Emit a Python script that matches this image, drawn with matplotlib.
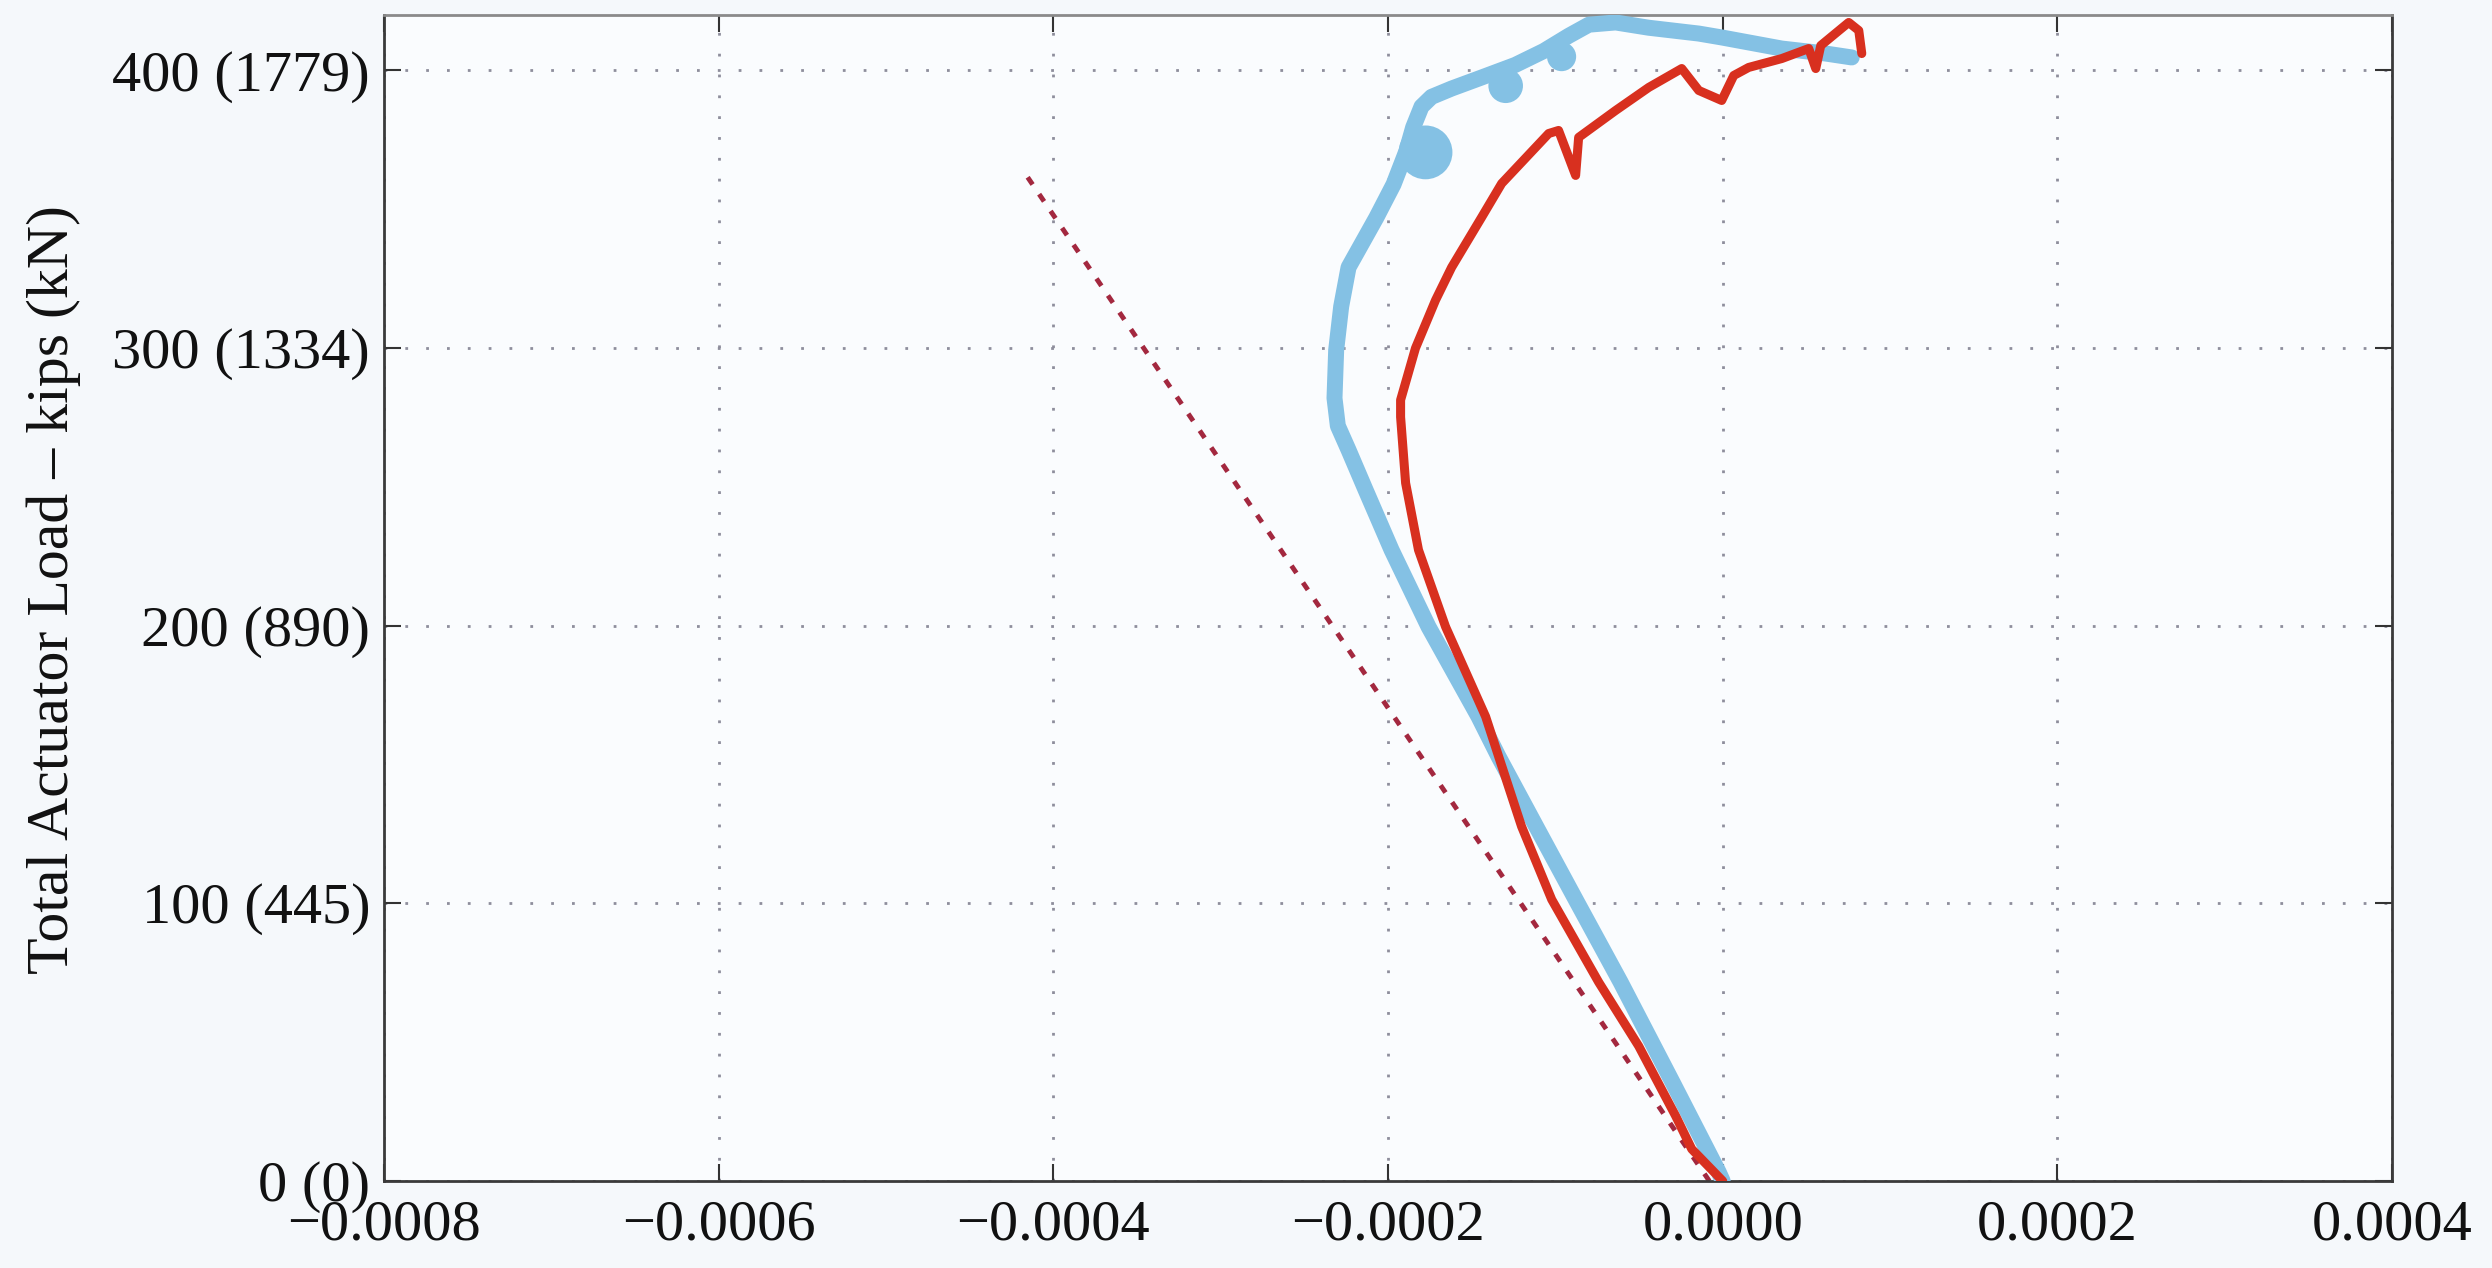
import matplotlib
matplotlib.use("Agg")
import matplotlib.pyplot as plt

# strain (x) vs total actuator load in kips (y)
blue_strain = [0.0, -2.4e-6, -3.0e-5, -6.1e-5, -8.7e-5, -1.105e-4, -1.34e-4, -1.46e-4,
               -1.758e-4, -1.979e-4, -2.134e-4, -2.236e-4, -2.30e-4, -2.32e-4, -2.31e-4,
               -2.28e-4, -2.236e-4, -2.07e-4, -1.967e-4, -1.89e-4, -1.85e-4, -1.80e-4,
               -1.74e-4, -1.62e-4, -1.44e-4, -1.24e-4, -1.07e-4, -9.2e-5, -8.0e-5, -6.4e-5,
               -4.42e-5, -1.43e-5, -6e-7, 3.53e-5, 6.16e-5, 7.71e-5]
blue_load = [0, 3.2, 35.6, 71.6, 100.4, 126.6, 152.9, 167.3,
             199.6, 227.3, 248.9, 263.3, 272, 282, 299.3,
             315, 329.1, 347, 359, 371, 379.5, 387,
             390.5, 393.5, 397.5, 402, 407, 412.5, 416.5, 417.3,
             415.4, 413.3, 411.9, 407.9, 406.1, 404.7]

# load-hold clusters hanging off the blue record
blob_strain = [-1.776e-4, -1.297e-4, -9.63e-5]
blob_load = [370.5, 394.5, 405]
blob_size = [1500, 620, 440]

red_strain = [0.0, -1.85e-5, -2.81e-5, -5.02e-5, -7.41e-5, -1.022e-4, -1.202e-4, -1.339e-4,
              -1.417e-4, -1.656e-4, -1.818e-4, -1.895e-4, -1.925e-4, -1.925e-4, -1.836e-4,
              -1.716e-4, -1.620e-4, -1.441e-4, -1.321e-4, -1.040e-4, -9.81e-5, -8.79e-5,
              -8.61e-5, -6.40e-5, -4.42e-5, -2.45e-5, -1.43e-5, -6e-7, 6.6e-6, 1.55e-5,
              3.53e-5, 5.14e-5, 5.56e-5, 5.86e-5, 7.53e-5, 8.13e-5, 8.31e-5]
red_load = [0, 11.5, 23.4, 48.6, 71.6, 101.4, 127.7, 152.9,
            167.3, 199.6, 227.3, 251.4, 275.2, 281.3, 300.0,
            317.3, 329.1, 347.1, 359.3, 377.3, 378.4, 362.2,
            375.9, 385.6, 393.9, 400.7, 392.8, 389.2, 398.2, 401.1,
            404.3, 407.9, 400.7, 409.0, 417.3, 414.4, 406.1]

theory_strain = [-8e-6, -4.17e-4]
theory_load = [0, 363]

x_ticks = [-0.0008, -0.0006, -0.0004, -0.0002, 0.0, 0.0002, 0.0004]
x_ticklabels = ["\u22120.0008", "\u22120.0006", "\u22120.0004", "\u22120.0002",
                "0.0000", "0.0002", "0.0004"]
y_ticks = [0, 100, 200, 300, 400]
y_ticklabels = ["0 (0)", "100 (445)", "200 (890)", "300 (1334)", "400 (1779)"]

plt.rcParams["font.family"] = ["Liberation Serif", "DejaVu Serif"]

fig = plt.figure(figsize=(24.92, 12.68), dpi=100)
fig.patch.set_facecolor("#F5F8FB")
ax = fig.add_axes([0.1541, 0.0686, 0.8058, 0.9196])
ax.set_facecolor("#FAFCFE")

blue = "#84C1E4"
ax.plot(blue_strain, blue_load, color=blue, lw=11.5,
        solid_joinstyle="round", solid_capstyle="round", zorder=3)
ax.scatter(blob_strain, blob_load, s=blob_size, color=blue, lw=0, zorder=3)
ax.plot(red_strain, red_load, color="#D8301F", lw=6.5,
        solid_joinstyle="round", solid_capstyle="round", zorder=4)
ax.plot(theory_strain, theory_load, color="#A3283F", lw=3.5,
        linestyle=(0, (1.8, 2.4)), zorder=2)

ax.set_xlim(-0.0008, 0.0004)
ax.set_ylim(0, 420)
ax.set_xticks(x_ticks)
ax.set_xticklabels(x_ticklabels)
ax.set_yticks(y_ticks)
ax.set_yticklabels(y_ticklabels)

ax.grid(True, color="#8E8E9C", lw=2.0, linestyle=(0, (1, 6.5)))
ax.set_axisbelow(True)
ax.tick_params(direction="in", length=12, width=1.5, colors="#333333",
               labelcolor="#111111", labelsize=42, top=True, right=True)
ax.tick_params(axis="x", pad=13)
ax.tick_params(axis="y", pad=10)
for s in ["left", "bottom", "right"]:
    ax.spines[s].set_color("#3A3A3A")
    ax.spines[s].set_linewidth(2)
ax.spines["top"].set_color("#8A8A8A")
ax.spines["top"].set_linewidth(2)

fig.text(54 / 2492, 1 - 590 / 1268, "Total Actuator Load \u2013 kips (kN)",
         rotation=90, ha="center", va="center", fontsize=43, color="#111111")

fig.savefig("out.png", dpi=100, facecolor=fig.get_facecolor())
